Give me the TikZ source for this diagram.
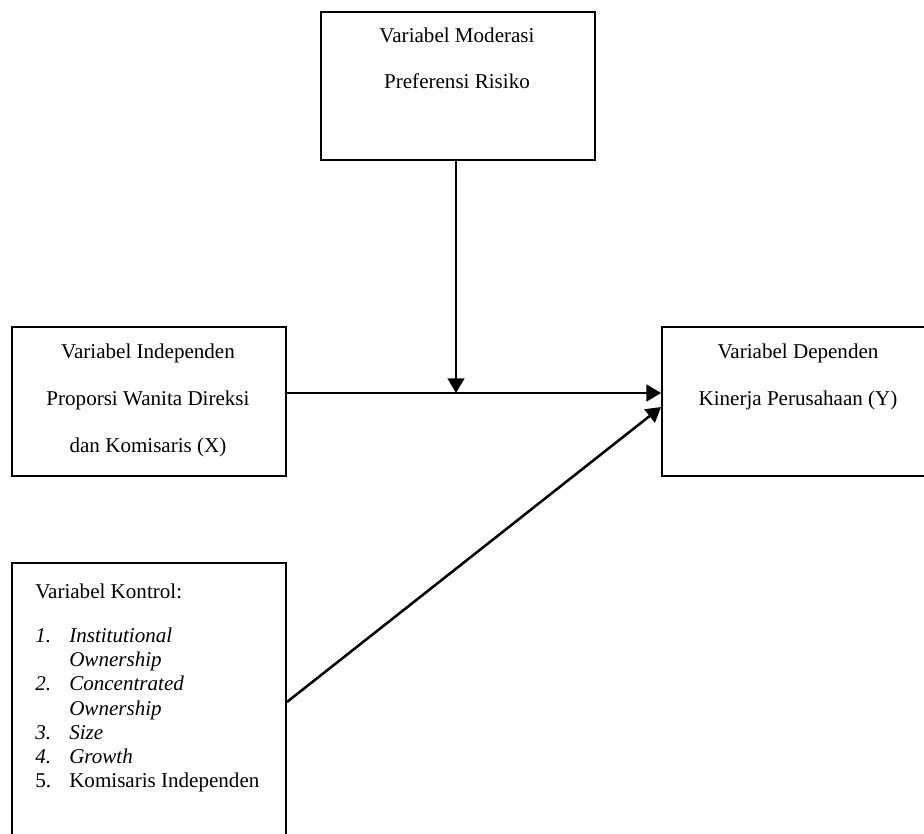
\documentclass[tikz,border=0pt]{standalone}
\usepackage{fontspec}
\setmainfont{Liberation Serif}
\usetikzlibrary{arrows.meta}
\begin{document}
\begin{tikzpicture}[x=0.75pt,y=-0.75pt,
  box/.style={draw,line width=1.4pt,rectangle,inner sep=0pt,minimum width=205.5pt},
  txt/.style={anchor=base,inner sep=0pt,font=\fontsize{15.8}{18}\selectfont},
  ltxt/.style={anchor=base west,inner sep=0pt,font=\fontsize{15.8}{18}\selectfont},
  arr/.style={line width=1.9pt,-{Triangle[length=11pt,width=12.5pt]}}]
\useasboundingbox (0,0) rectangle (924,833);
\fill[white] (0,0) rectangle (924,833);
% boxes
\node[box,minimum height=111pt] (mod) at (458,86) {};
\node[box,minimum height=111.75pt] (ind) at (149,401.5) {};
\node[box,minimum height=111.75pt,minimum width=204pt] (dep) at (798,401.5) {};
\node[box,minimum height=215.25pt] (ctl) at (149,706.5) {};
% texts
\node[txt] (m1) at (457,42) {Variabel Moderasi};
\node[txt] (m2) at (457,88) {Preferensi Risiko};
\node[txt] (i1) at (148,358) {Variabel Independen};
\node[txt] (i2) at (148,405) {Proporsi Wanita Direksi};
\node[txt] (i3) at (148,452) {dan Komisaris (X)};
\node[txt] (d1) at (798,358) {Variabel Dependen};
\node[txt] (d2) at (798,405) {Kinerja Perusahaan (Y)};
\node[ltxt] (c0) at (35,598) {Variabel Kontrol:};
\node[ltxt] (n1) at (35,642.5) {\textit{1.}};
\node[ltxt] (t1) at (69,642.5) {\textit{Institutional}};
\node[ltxt] (t1b) at (69,666.7) {\textit{Ownership}};
\node[ltxt] (n2) at (35,690.9) {\textit{2.}};
\node[ltxt] (t2) at (69,690.9) {\textit{Concentrated}};
\node[ltxt] (t2b) at (69,715.1) {\textit{Ownership}};
\node[ltxt] (n3) at (35,739.3) {\textit{3.}};
\node[ltxt] (t3) at (69,739.3) {\textit{Size}};
\node[ltxt] (n4) at (35,763.5) {\textit{4.}};
\node[ltxt] (t4) at (69,763.5) {\textit{Growth}};
\node[ltxt] (n5) at (35,787.7) {5.};
\node[ltxt] (t5) at (69,787.7) {Komisaris Independen};
% connectors
\coordinate (hy) at (0,393);
\coordinate (vx) at (456,0);
\coordinate (dy) at (0,702);
\coordinate (ty) at (0,407);
\draw[arr] (ind.east |- hy) -- (dep.west |- hy);
\draw[arr] (vx |- mod.south) -- (vx |- hy);
\draw[arr] (ctl.east |- dy) -- (dep.west |- ty);
\end{tikzpicture}
\end{document}
